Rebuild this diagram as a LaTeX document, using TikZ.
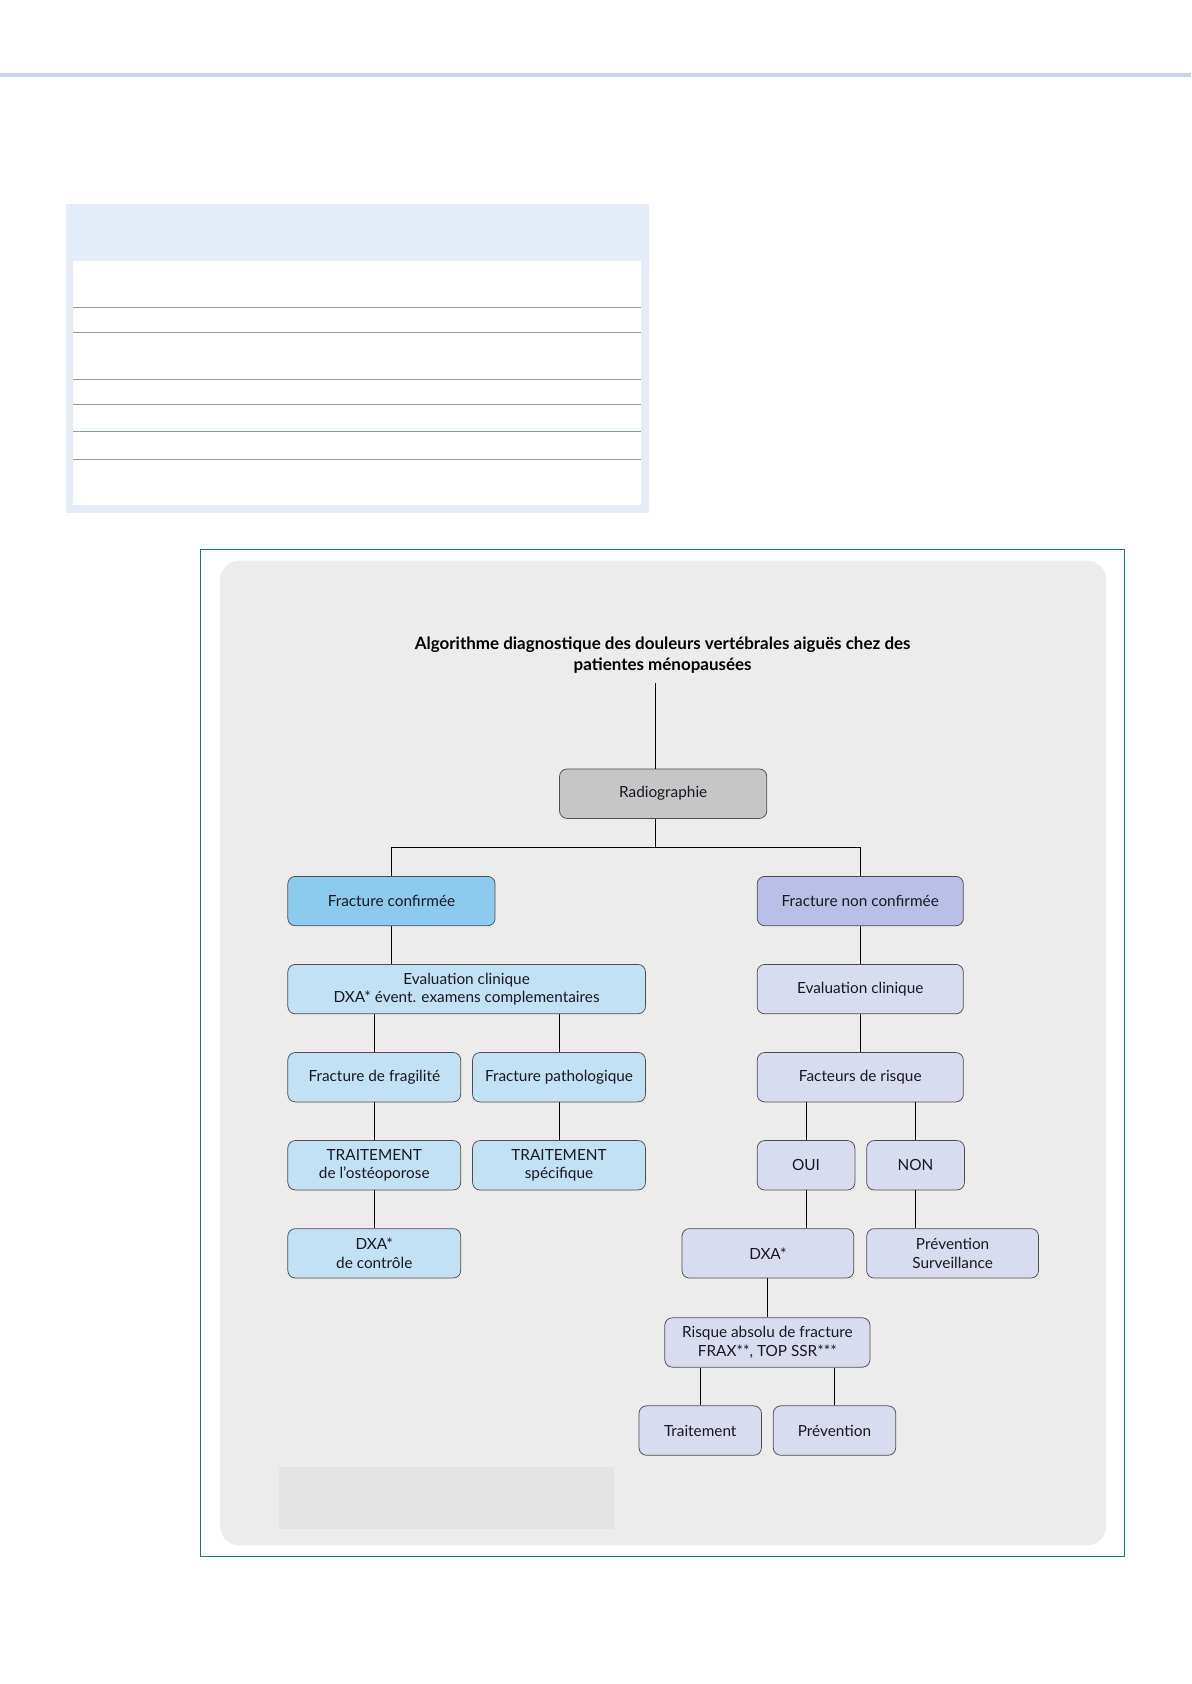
\documentclass[tikz,border=0pt]{standalone}
\usepackage{fontspec}
\setmainfont{Lato}
\definecolor{topline}{RGB}{195,212,233}
\definecolor{tabblue}{RGB}{228,237,247}
\definecolor{tabrule}{RGB}{130,155,178}
\definecolor{framec}{RGB}{40,112,145}
\definecolor{panel}{RGB}{236,236,236}
\definecolor{panellow}{RGB}{228,228,228}
\definecolor{boxline}{RGB}{77,77,85}
\definecolor{txt}{RGB}{24,24,34}
\definecolor{cgrey}{RGB}{198,198,198}
\definecolor{cblue}{RGB}{141,202,238}
\definecolor{clav}{RGB}{186,191,230}
\definecolor{clblue}{RGB}{194,225,244}
\definecolor{cllav}{RGB}{217,219,241}
\tikzset{
  box/.style={draw=boxline, line width=0.7pt, rounded corners=7pt, minimum height=46pt,
    inner sep=0pt, align=center, text=txt, font=\fontsize{14.3}{17.5}\selectfont},
  conn/.style={draw=black, line width=0.8pt},
}
\begin{document}
\begin{tikzpicture}[x=1pt,y=-1pt]
\useasboundingbox (0,0) rectangle (1109,1568);
% top rule
\draw[topline, line width=3.5pt] (0,70) -- (1109,70);
% table
\fill[tabblue] (61,190) rectangle (604,478);
\fill[white] (68,243) rectangle (597,470);
\foreach \yy in {286,310,353,377,402,428}
  \draw[tabrule, line width=1pt] (68,\yy) -- (597,\yy);
% frame and panel
\draw[framec, line width=0.9pt] (187,512) rectangle (1047,1449);
\fill[panel, rounded corners=18pt] (205,522) rectangle (1030,1439);
\fill[panellow] (260,1366) rectangle (572,1424);
% title
\node[align=center, text=black, font=\bfseries\fontsize{15.8}{19.5}\selectfont, inner sep=0pt]
  (title) at (617,610) {Algorithme diagnostique des douleurs vertébrales aiguës chez des\\patientes ménopausées};
\coordinate (spine) at (610,636);
\coordinate (bar) at (0,789);
% boxes
\node[box, fill=cgrey, minimum width=193pt] (radio) at (617.5,739) {Radiographie};
\node[box, fill=cblue, minimum width=193pt] (fc) at (364.5,839) {Fracture confirmée};
\node[box, fill=clav, minimum width=192pt] (fnc) at (801,839) {Fracture non confirmée};
\node[box, fill=clblue, minimum width=333pt] (evl) at (434.5,921) {Evaluation clinique\\DXA* évent. examens complementaires};
\node[box, fill=cllav, minimum width=192pt] (evr) at (801,921) {Evaluation clinique};
\node[box, fill=clblue, minimum width=161pt] (frag) at (348.5,1003) {Fracture de fragilité};
\node[box, fill=clblue, minimum width=161pt] (patho) at (520.5,1003) {Fracture pathologique};
\node[box, fill=cllav, minimum width=192pt] (fdr) at (801,1003) {Facteurs de risque};
\node[box, fill=clblue, minimum width=161pt] (trt1) at (348.5,1085) {TRAITEMENT\\de l’ostéoporose};
\node[box, fill=clblue, minimum width=161pt] (trt2) at (520.5,1085) {TRAITEMENT\\spécifique};
\node[box, fill=cllav, minimum width=91pt] (oui) at (750.5,1085) {OUI};
\node[box, fill=cllav, minimum width=91pt] (non) at (852.5,1085) {NON};
\node[box, fill=clblue, minimum width=161pt] (dxac) at (348.5,1167) {DXA*\\de contrôle};
\node[box, fill=cllav, minimum width=160pt] (dxa) at (715,1167) {DXA*};
\node[box, fill=cllav, minimum width=160pt] (prevs) at (887,1167) {Prévention\\Surveillance};
\node[box, fill=cllav, minimum width=191pt] (risque) at (714.5,1250) {Risque absolu de fracture\\FRAX**, TOP SSR***};
\node[box, fill=cllav, minimum width=114pt] (trt) at (652,1332) {Traitement};
\node[box, fill=cllav, minimum width=114pt] (prev) at (777,1332) {Prévention};
% connectors
\draw[conn] (spine) -- (radio.north -| spine);
\draw[conn] (radio.south -| spine) -- (bar -| spine);
\draw[conn] (fc.north) |- (bar -| spine);
\draw[conn] (fnc.north) |- (bar -| spine);
\draw[conn] (fc.south) -- (fc.south |- evl.north);
\draw[conn] (fnc.south) -- (evr.north);
\draw[conn] (frag.north) -- (frag.north |- evl.south);
\draw[conn] (patho.north) -- (patho.north |- evl.south);
\draw[conn] (evr.south) -- (fdr.north);
\draw[conn] (frag.south) -- (trt1.north);
\draw[conn] (patho.south) -- (trt2.north);
\draw[conn] (oui.north) -- (oui.north |- fdr.south);
\draw[conn] (non.north) -- (non.north |- fdr.south);
\draw[conn] (trt1.south) -- (dxac.north);
\draw[conn] (oui.south) -- (oui.south |- dxa.north);
\draw[conn] (non.south) -- (non.south |- prevs.north);
\draw[conn] (dxa.south) -- (dxa.south |- risque.north);
\draw[conn] (trt.north) -- (trt.north |- risque.south);
\draw[conn] (prev.north) -- (prev.north |- risque.south);
\end{tikzpicture}
\end{document}
